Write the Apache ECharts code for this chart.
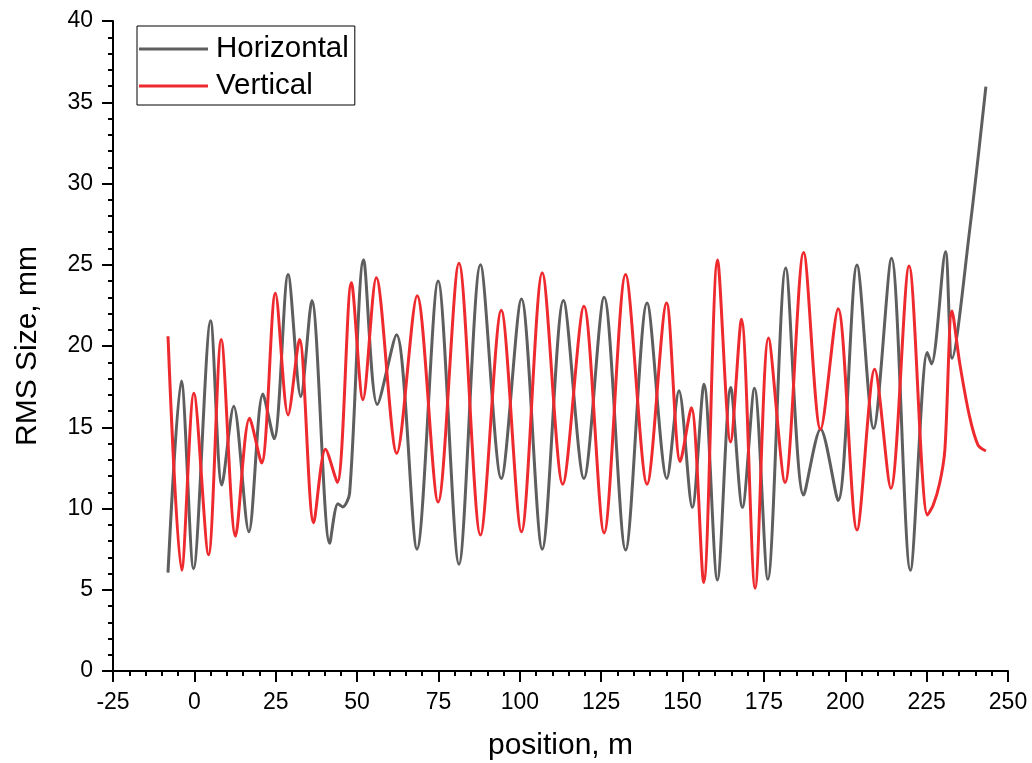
<!DOCTYPE html>
<html>
<head>
<meta charset="utf-8">
<script src="https://cdn.jsdelivr.net/npm/echarts@6/dist/echarts.min.js"></script>
<style>
html,body{margin:0;padding:0;background:#fff;}
#chart{width:1032px;height:763px;}
</style>
</head>
<body>
<div id="chart"></div>
<script>
// Horizontal RMS size: [position (m), size (mm)]
var horizontal = [
  [-8.1, 6.05], [-4.0, 17.85], [-0.25, 6.3], [5.0, 21.55], [8.45, 11.45],
  [12.1, 16.3], [16.75, 8.57], [21.05, 17.05], [24.5, 14.3], [28.8, 24.4],
  [32.7, 16.9], [36.1, 22.8], [41.6, 7.86], [44.1, 10.3], [45.6, 10.1],
  [47.7, 10.95], [52.0, 25.3], [56.2, 16.4], [62.1, 20.7], [68.4, 7.5],
  [74.9, 24.0], [81.3, 6.57], [87.9, 25.0], [94.3, 11.85], [100.5, 22.9],
  [106.9, 7.5], [113.4, 22.8], [119.7, 11.85], [125.9, 23.0], [132.5, 7.45],
  [139.1, 22.65], [145.2, 11.85], [148.9, 17.25], [153.0, 10.07], [156.6, 17.65],
  [160.7, 5.6], [164.8, 17.45], [168.4, 10.07], [172.1, 17.4], [176.2, 5.64],
  [181.7, 24.8], [187.2, 10.83], [192.4, 14.9], [197.8, 10.5], [203.6, 24.98],
  [208.7, 14.93], [214.2, 25.4], [220.0, 6.2], [225.2, 19.6], [226.5, 18.9],
  [230.8, 25.8], [232.8, 19.25], [238.2, 27.1], [243.2, 35.96]
];
// Vertical RMS size: [position (m), size (mm)]
var vertical = [
  [-8.1, 20.6], [-3.9, 6.2], [-0.15, 17.1], [4.35, 7.15], [8.25, 20.4],
  [12.65, 8.3], [16.95, 15.55], [20.65, 12.8], [24.9, 23.25], [28.8, 15.75],
  [32.3, 20.4], [36.65, 9.13], [40.3, 13.65], [43.9, 11.6], [48.25, 23.9],
  [51.8, 16.7], [55.9, 24.2], [62.2, 13.4], [68.45, 23.1], [74.9, 10.4],
  [81.3, 25.1], [87.9, 8.37], [94.3, 22.2], [100.5, 8.57], [106.9, 24.5],
  [113.2, 11.5], [119.7, 22.45], [125.9, 8.5], [132.5, 24.4], [139.1, 11.5],
  [145.1, 22.65], [149.3, 12.9], [152.7, 16.2], [156.5, 5.45], [160.75, 25.3],
  [164.75, 14.1], [168.1, 21.65], [172.3, 5.1], [176.4, 20.5], [181.5, 11.6],
  [187.2, 25.75], [192.4, 14.87], [197.8, 22.3], [203.6, 8.68], [209.05, 18.57],
  [214.0, 11.24], [219.6, 24.92], [225.25, 9.6], [227.0, 10.2], [229.0, 11.55],
  [230.6, 13.6], [232.8, 22.15], [235.2, 18.9], [238.2, 15.65], [240.8, 13.9],
  [243.2, 13.54]
];
var seriesNames = ['Horizontal', 'Vertical'];
var seriesColors = ['#5e5e5e', '#ee2a2f'];
var xTitle = 'position, m';
var yTitle = 'RMS Size, mm';

var FONT = '"Liberation Sans", Arial, sans-serif';
var chart = echarts.init(document.getElementById('chart'), null, {renderer: 'canvas'});
var axisCommon = {
  axisLine: {show: true, onZero: false, lineStyle: {color: '#000', width: 2}},
  axisTick: {show: true, inside: false, length: 11, lineStyle: {color: '#000', width: 2}},
  minorTick: {show: true, splitNumber: 5, length: 5, lineStyle: {color: '#000', width: 2}},
  splitLine: {show: false},
  axisLabel: {color: '#000', fontSize: 23, fontFamily: FONT},
  nameTextStyle: {color: '#000', fontSize: 30, fontFamily: FONT}
};
chart.setOption({
  animation: false,
  backgroundColor: '#fff',
  grid: {left: 113, right: 24, top: 21, bottom: 92, containLabel: false, outerBoundsMode: 'none'},
  legend: {
    orient: 'vertical',
    left: 137, top: 26,
    padding: [8, 6, 4, 2],
    borderColor: '#000', borderWidth: 1,
    itemWidth: 69, itemHeight: 3, itemGap: 7,
    icon: 'rect',
    textStyle: {color: '#000', fontSize: 29.5, fontFamily: FONT, padding: [0, 0, 0, 3]},
    data: seriesNames
  },
  xAxis: Object.assign({}, axisCommon, {
    type: 'value', min: -25, max: 250, interval: 25,
    name: xTitle, nameLocation: 'middle', nameGap: 60,
    axisLabel: Object.assign({}, axisCommon.axisLabel, {margin: 20})
  }),
  yAxis: Object.assign({}, axisCommon, {
    type: 'value', min: 0, max: 40, interval: 5,
    name: yTitle, nameLocation: 'middle', nameGap: 70,
    axisLabel: Object.assign({}, axisCommon.axisLabel, {margin: 20})
  }),
  series: [
    {name: seriesNames[0], type: 'line', data: horizontal, showSymbol: false, smooth: 0.3,
     lineStyle: {color: seriesColors[0], width: 3}, itemStyle: {color: seriesColors[0]}},
    {name: seriesNames[1], type: 'line', data: vertical, showSymbol: false, smooth: 0.3,
     lineStyle: {color: seriesColors[1], width: 3}, itemStyle: {color: seriesColors[1]}}
  ]
});
</script>
</body>
</html>
